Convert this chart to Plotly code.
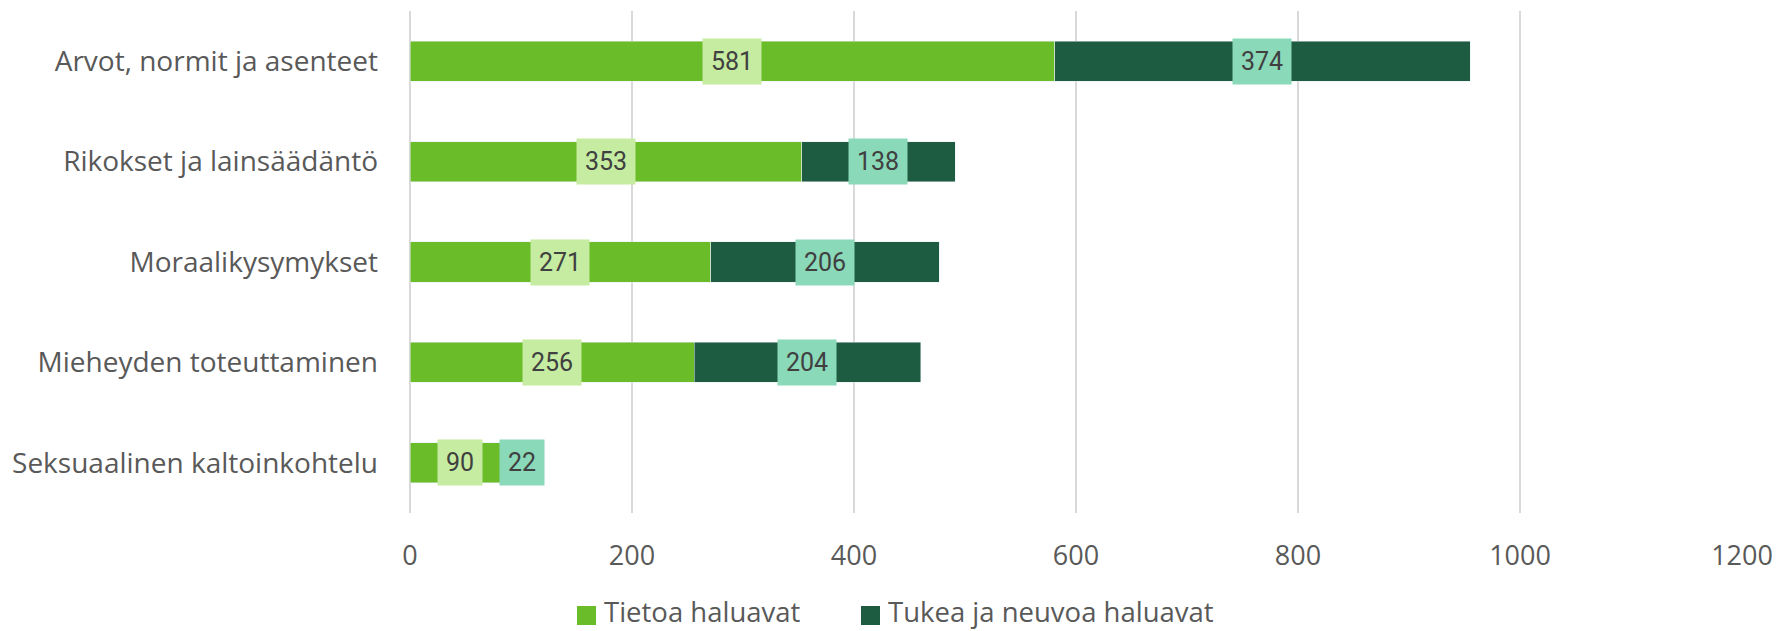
import plotly.graph_objects as go

categories = [
    "Arvot, normit ja asenteet",
    "Rikokset ja lainsäädäntö",
    "Moraalikysymykset",
    "Mieheyden toteuttaminen",
    "Seksuaalinen kaltoinkohtelu",
]
tietoa = [581, 353, 271, 256, 90]
tukea = [374, 138, 206, 204, 22]
series_names = ["Tietoa haluavat", "Tukea ja neuvoa haluavat"]
x_ticks = [0, 200, 400, 600, 800, 1000, 1200]

# page has an 8px body margin: figure is offset by 8px
OFF = 8
W, H = 1791 - OFF, 631 - OFF
ML, MR, MT, MB = 410 - OFF, 49, 11 - OFF, 118
PW = W - ML - MR
PH = H - MT - MB

GREEN = "#6abd29"
DARK = "#1e5c42"
GREEN_BG = "#c5eca0"
DARK_BG = "#8ad9b9"
TXT = "#595959"
LBL = "#404040"
FONT = "Open Sans"

fig = go.Figure()
fig.add_trace(go.Bar(y=categories, x=tietoa, orientation="h", name=series_names[0],
                     marker=dict(color=GREEN), showlegend=False))
fig.add_trace(go.Bar(y=categories, x=tukea, orientation="h", name=series_names[1],
                     marker=dict(color=DARK), showlegend=False))

annotations = []
for c, a, b in zip(categories, tietoa, tukea):
    annotations.append(dict(x=a / 2, y=c, xref="x", yref="y", text=str(a), showarrow=False,
                            bgcolor=GREEN_BG, borderpad=8,
                            font=dict(family="Roboto", size=25, color=LBL)))
    annotations.append(dict(x=a + b / 2, y=c, xref="x", yref="y", text=str(b), showarrow=False,
                            bgcolor=DARK_BG, borderpad=8,
                            font=dict(family="Roboto", size=25, color=LBL)))

# manual legend (page pixel positions converted to paper coords)
def px2x(px):
    return (px - OFF - ML) / PW

def py2y(py):
    return (H - MB - (py - OFF)) / PH

shapes = []
leg = [(577, GREEN, series_names[0]), (861, DARK, series_names[1])]
for x0, col, name in leg:
    shapes.append(dict(type="rect", xref="paper", yref="paper",
                       x0=px2x(x0), x1=px2x(x0 + 19), y0=py2y(625), y1=py2y(606),
                       fillcolor=col, line=dict(width=0)))
    annotations.append(dict(x=px2x(x0 + 26), y=py2y(611.5), xref="paper", yref="paper",
                            xanchor="left", yanchor="middle", text=name, showarrow=False,
                            borderpad=0,
                            font=dict(family=FONT, size=27.5, color=TXT)))

fig.update_layout(
    width=W, height=H,
    margin=dict(l=ML, r=MR, t=MT, b=MB, pad=0),
    barmode="stack", bargap=0.6,
    plot_bgcolor="white", paper_bgcolor="white",
    showlegend=False,
    annotations=annotations, shapes=shapes,
    font=dict(family=FONT, size=27, color=TXT),
)
fig.update_xaxes(range=[0, 1200], tickvals=x_ticks, showgrid=True, gridcolor="#d9d9d9",
                 gridwidth=1.5, zeroline=True, zerolinecolor="#d9d9d9", zerolinewidth=1.5,
                 showline=False, ticks="", ticklabelstandoff=24,
                 tickfont=dict(family=FONT, size=27, color=TXT))
fig.update_yaxes(autorange="reversed", showgrid=False, showline=False, ticks="",
                 ticklabelstandoff=31, tickfont=dict(family=FONT, size=28, color=TXT))

fig.write_html("out.html")
